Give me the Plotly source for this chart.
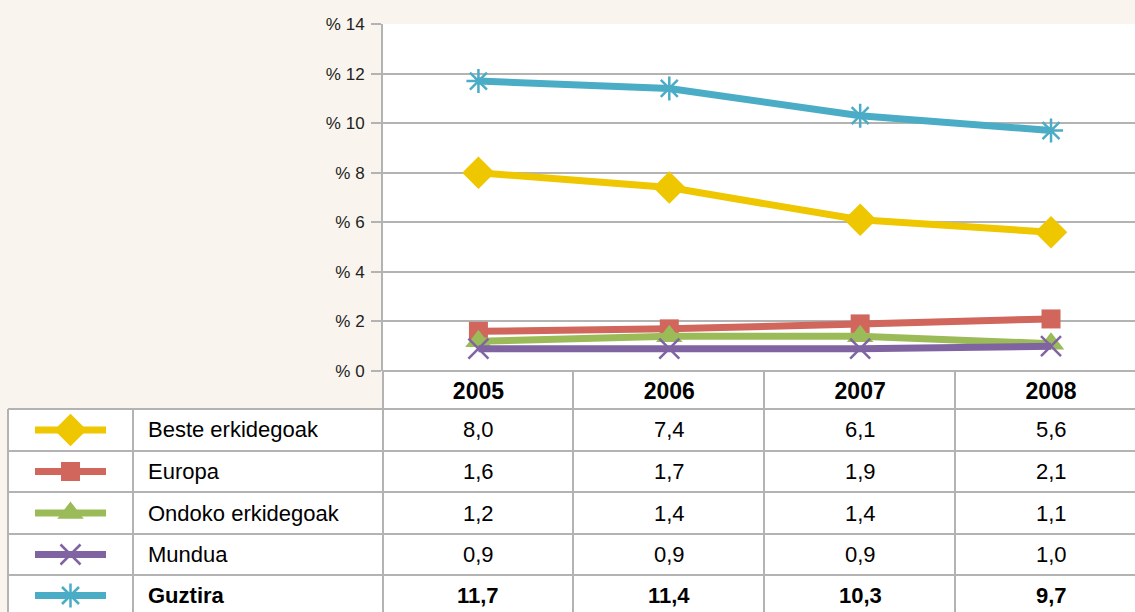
import plotly.graph_objects as go

# ---------------- data ----------------
years = ["2005", "2006", "2007", "2008"]
series_names = ["Beste erkidegoak", "Europa", "Ondoko erkidegoak", "Mundua", "Guztira"]
beste = [8.0, 7.4, 6.1, 5.6]
europa = [1.6, 1.7, 1.9, 2.1]
ondoko = [1.2, 1.4, 1.4, 1.1]
mundua = [0.9, 0.9, 0.9, 1.0]
guztira = [11.7, 11.4, 10.3, 9.7]
y_ticks = [0, 2, 4, 6, 8, 10, 12, 14]
y_tick_labels = ["% " + str(v) for v in y_ticks]

values = [beste, europa, ondoko, mundua, guztira]
colors = ["#EEC700", "#D0665C", "#9BBB59", "#8064A2", "#4BACC6"]
symbols = ["diamond", "square", "triangle-up", "x-thin-open", "asterisk-open"]
msizes = [25, 19, 23, 20, 20]

# ---------------- layout geometry (pixels) ----------------
W, H = 1135, 612
PLOT_L, PLOT_T, PLOT_B = 383, 24, 371
ROW_LINES = [409, 451, 492, 534, 575, 616]
COL_LINES = [573, 764, 955]
TABLE_L, NAME_COL = 8, 133
GRID = "#b3b3b3"
CREAM = "#F9F5EE"
FONT = "Liberation Sans, Arial, sans-serif"


def px(x):
    return x / W


def py(y):
    return 1 - y / H


fig = go.Figure()

# main chart lines
for name, vals, c, s, ms in zip(series_names, values, colors, symbols, msizes):
    mline = dict(width=2.5, color=c) if s.endswith("open") else dict(width=0)
    fig.add_trace(go.Scatter(
        x=years, y=vals, name=name, mode="lines+markers",
        line=dict(color=c, width=7),
        marker=dict(symbol=s, size=ms, color=c, line=mline),
        showlegend=False, xaxis="x", yaxis="y",
    ))

# legend samples inside the table (pixel axes covering the first column)
for i, (c, s, ms) in enumerate(zip(colors, symbols, msizes)):
    yc = (ROW_LINES[i] + ROW_LINES[i + 1]) / 2
    fig.add_trace(go.Scatter(
        x=[35, 106], y=[yc, yc], mode="lines",
        line=dict(color=c, width=7), showlegend=False, hoverinfo="skip",
        xaxis="x2", yaxis="y2",
    ))
    mline = dict(width=2.5, color=c) if s.endswith("open") else dict(width=0)
    fig.add_trace(go.Scatter(
        x=[70.5], y=[yc], mode="markers",
        marker=dict(symbol=s, size=ms, color=c, line=mline),
        showlegend=False, hoverinfo="skip", xaxis="x2", yaxis="y2",
    ))

shapes = []
# white table cells
shapes.append(dict(type="rect", xref="paper", yref="paper",
                   x0=px(PLOT_L), x1=1, y0=py(ROW_LINES[0]), y1=py(PLOT_B),
                   fillcolor="white", line=dict(width=0), layer="below"))
shapes.append(dict(type="rect", xref="paper", yref="paper",
                   x0=px(TABLE_L), x1=1, y0=0, y1=py(ROW_LINES[0]),
                   fillcolor="white", line=dict(width=0), layer="below"))
# horizontal table lines
for yl in ROW_LINES[:5]:
    shapes.append(dict(type="line", xref="paper", yref="paper",
                       x0=px(TABLE_L), x1=1, y0=py(yl), y1=py(yl),
                       line=dict(color=GRID, width=2)))
shapes.append(dict(type="line", xref="paper", yref="paper",
                   x0=px(PLOT_L), x1=1, y0=py(PLOT_B), y1=py(PLOT_B),
                   line=dict(color=GRID, width=2)))
# vertical table lines
for xl in [TABLE_L, NAME_COL]:
    shapes.append(dict(type="line", xref="paper", yref="paper",
                       x0=px(xl), x1=px(xl), y0=0, y1=py(ROW_LINES[0]),
                       line=dict(color=GRID, width=2)))
shapes.append(dict(type="line", xref="paper", yref="paper",
                   x0=px(PLOT_L), x1=px(PLOT_L), y0=0, y1=py(PLOT_B),
                   line=dict(color=GRID, width=2)))
for xl in COL_LINES:
    shapes.append(dict(type="line", xref="paper", yref="paper",
                       x0=px(xl), x1=px(xl), y0=0, y1=py(PLOT_B),
                       line=dict(color=GRID, width=2)))

annotations = []
for i, (name, vals) in enumerate(zip(series_names, values)):
    yc = (ROW_LINES[i] + ROW_LINES[i + 1]) / 2
    bold = name == "Guztira"
    annotations.append(dict(
        x=px(146), y=py(yc), xref="paper", yref="paper", text=name,
        showarrow=False, xanchor="left", yanchor="middle",
        font=dict(size=22, color="black", family=FONT, weight="bold" if bold else "normal"),
    ))
    for j, v in enumerate(vals):
        annotations.append(dict(
            x=j, y=py(yc), xref="x", yref="paper",
            text=f"{v:.1f}".replace(".", ","),
            showarrow=False, xanchor="center", yanchor="middle",
            font=dict(size=22, color="black", family=FONT, weight="bold" if bold else "normal"),
        ))

fig.update_layout(
    width=W, height=H,
    margin=dict(l=0, r=0, t=0, b=0, pad=0, autoexpand=False),
    paper_bgcolor=CREAM, plot_bgcolor="white",
    font=dict(family=FONT, color="#222"),
    xaxis=dict(domain=[px(PLOT_L), 1], type="category", range=[-0.5, 3.44],
               showgrid=False, zeroline=False, showline=False, ticks="",
               tickfont=dict(size=23, color="black", family=FONT, weight="bold"),
               ticklabelstandoff=4, automargin=False),
    yaxis=dict(domain=[py(PLOT_B), py(PLOT_T)], range=[0, 14],
               tickvals=y_ticks, ticktext=y_tick_labels,
               showgrid=True, gridcolor=GRID, gridwidth=1.5,
               showline=True, linecolor=GRID, linewidth=2,
               ticks="outside", ticklen=10, tickcolor=GRID, tickwidth=1.5,
               tickfont=dict(size=17, color="#222", family=FONT),
               ticklabelstandoff=3,
               zeroline=False, automargin=False),
    xaxis2=dict(domain=[px(TABLE_L), px(NAME_COL)], range=[TABLE_L, NAME_COL],
                visible=False, anchor="y2", automargin=False),
    yaxis2=dict(domain=[0, py(ROW_LINES[0])], range=[H, ROW_LINES[0]],
                visible=False, anchor="x2", automargin=False),
    shapes=shapes, annotations=annotations,
)

fig.write_html("out.html", post_script="document.body.style.margin='0';",
               config={"displayModeBar": False})
